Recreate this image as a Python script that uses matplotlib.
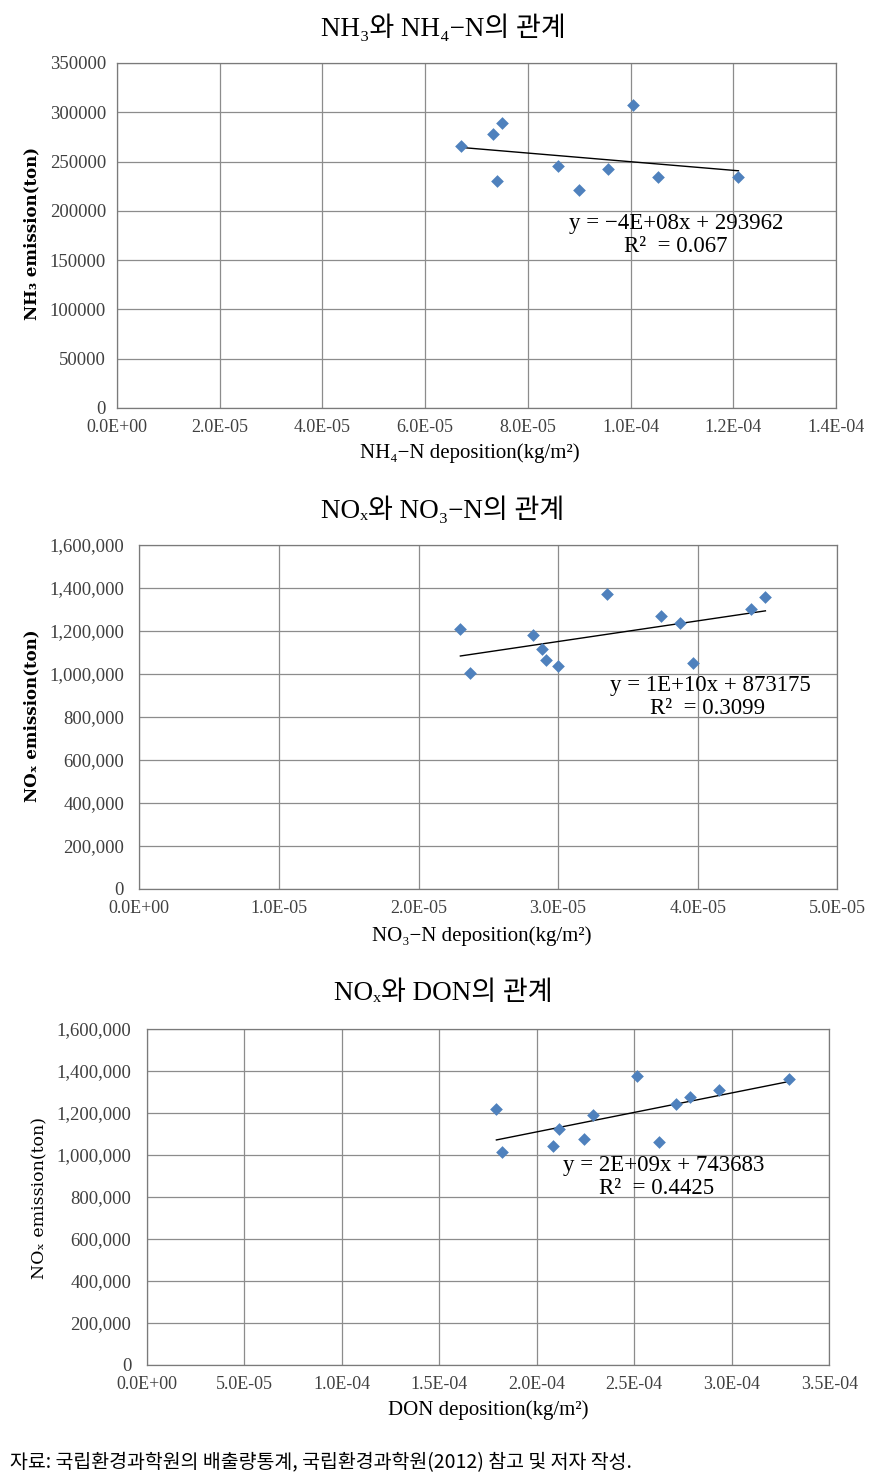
import numpy as np
import matplotlib
matplotlib.use("Agg")
import matplotlib.pyplot as plt
from matplotlib.ticker import FuncFormatter, MultipleLocator

# ---------------- data ----------------
nh4_dep = [6.69e-5, 7.33e-5, 7.50e-5, 7.39e-5, 8.58e-5, 9.00e-5, 9.57e-5, 1.005e-4, 1.053e-4, 1.21e-4]
nh3_emis = [265300, 277600, 289000, 229900, 245900, 221100, 242600, 307800, 234400, 234400]

no3_dep = [2.30e-5, 2.37e-5, 2.82e-5, 2.885e-5, 2.91e-5, 3.00e-5, 3.35e-5, 3.74e-5, 3.875e-5, 3.965e-5, 4.38e-5, 4.485e-5]
nox_emis_a = [1210700, 1006000, 1182800, 1116300, 1065100, 1037200, 1370200, 1267900, 1237200, 1052600, 1302300, 1356300]

don_dep = [1.793e-4, 1.822e-4, 2.082e-4, 2.116e-4, 2.244e-4, 2.290e-4, 2.513e-4, 2.629e-4, 2.716e-4, 2.785e-4, 2.933e-4, 3.292e-4]
nox_emis_b = [1218000, 1011000, 1039700, 1119600, 1071800, 1186600, 1374700, 1057400, 1240700, 1274200, 1306200, 1360300]

titles = ["NH₃와 NH₄−N의 관계", "NOₓ와 NO₃−N의 관계", "NOₓ와 DON의 관계"]
ylabels = ["NH₃ emission(ton)", "NOₓ emission(ton)", "NOₓ emission(ton)"]
xlabels = ["NH₄−N deposition(kg/m²)", "NO₃−N deposition(kg/m²)", "DON deposition(kg/m²)"]
eq_texts = [("y = −4E+08x + 293962", "R²  = 0.067"),
            ("y = 1E+10x + 873175", "R²  = 0.3099"),
            ("y = 2E+09x + 743683", "R²  = 0.4425")]
footnote = "자료: 국립환경과학원의 배출량통계, 국립환경과학원(2012) 참고 및 저자 작성."

# ---------------- style ----------------
W, H = 872, 1481
SERIF = ["Liberation Serif", "DejaVu Serif", "Noto Sans CJK KR"]
LABF = ["DejaVu Serif", "Noto Sans CJK KR"]
plt.rcParams["font.family"] = SERIF

fig = plt.figure(figsize=(W / 100, H / 100), dpi=100)
fig.patch.set_facecolor("white")

def fx(px):
    return px / W

def fy(py):
    return 1 - py / H

# axes boxes in pixels: left, top, right, bottom
boxes = [(117, 63, 836, 408), (139.3, 545, 837.3, 889), (146.7, 1028.5, 829.3, 1364.5)]
xlims = [(0, 1.4e-4), (0, 5e-5), (0, 3.5e-4)]
xsteps = [2e-5, 1e-5, 5e-5]
ylims = [(0, 350000), (0, 1600000), (0, 1600000)]
ysteps = [50000, 200000, 200000]
ypads = [8, 11, 11]
datasets = [(nh4_dep, nh3_emis), (no3_dep, nox_emis_a), (don_dep, nox_emis_b)]
title_pos = [(443, 28), (443, 510), (443, 993)]
ylab_pos = [(32, 233), (32, 716), (40, 1198)]
ylab_bold = ["bold", "bold", "normal"]
ylab_size = [12, 12, 12.5]
xlab_pos = [(470, 453), (482, 936), (488, 1410)]
eq_pos = [((676, 223), (676, 246)), ((710, 686), (708, 709)), ((664, 1165), (657, 1189))]

for i in range(3):
    l, t, r, b = boxes[i]
    ax = fig.add_axes([fx(l), fy(b), fx(r - l), (b - t) / H])
    xs, ys = datasets[i]
    ax.scatter(xs, ys, marker="D", s=42, color="#4F81BD", zorder=3, linewidths=0)
    k, c = np.polyfit(xs, ys, 1)
    xx = np.array([min(xs), max(xs)])
    ax.plot(xx, k * xx + c, color="black", lw=1.0, zorder=2)
    ax.set_xlim(*xlims[i])
    ax.set_ylim(*ylims[i])
    ax.xaxis.set_major_locator(MultipleLocator(xsteps[i]))
    ax.yaxis.set_major_locator(MultipleLocator(ysteps[i]))
    ax.xaxis.set_major_formatter(FuncFormatter(lambda v, p: "{:.1E}".format(v)))
    if i == 0:
        ax.yaxis.set_major_formatter(FuncFormatter(lambda v, p: "{:.0f}".format(v)))
    else:
        ax.yaxis.set_major_formatter(FuncFormatter(lambda v, p: "{:,.0f}".format(v)))
    ax.grid(True, color="#8c8c8c", lw=0.9)
    ax.set_axisbelow(True)
    for s in ax.spines.values():
        s.set_color("#7a7a7a")
        s.set_linewidth(0.9)
    ax.tick_params(axis="both", length=0, labelsize=13.5, labelcolor="#404040")
    ax.tick_params(axis="x", pad=8, labelsize=13)
    ax.tick_params(axis="y", pad=ypads[i])

    tx, ty = title_pos[i]
    fig.text(fx(tx), fy(ty), titles[i], ha="center", va="center", fontsize=19.5, color="black")
    lx, ly = ylab_pos[i]
    fig.text(fx(lx), fy(ly), ylabels[i], ha="center", va="center", rotation=90,
             fontsize=ylab_size[i], fontweight=ylab_bold[i], family=LABF, color="black")
    xlx, xly = xlab_pos[i]
    fig.text(fx(xlx), fy(xly), xlabels[i], ha="center", va="center", fontsize=15, color="black")
    (e1x, e1y), (e2x, e2y) = eq_pos[i]
    fig.text(fx(e1x), fy(e1y), eq_texts[i][0], ha="center", va="center", fontsize=16.5, color="black")
    fig.text(fx(e2x), fy(e2y), eq_texts[i][1], ha="center", va="center", fontsize=16.5, color="black")

fig.text(fx(10), fy(1463), footnote, ha="left", va="center", fontsize=14,
         family=["Noto Sans CJK KR", "DejaVu Sans"], color="black")

fig.savefig("out.png", dpi=100, facecolor="white")
